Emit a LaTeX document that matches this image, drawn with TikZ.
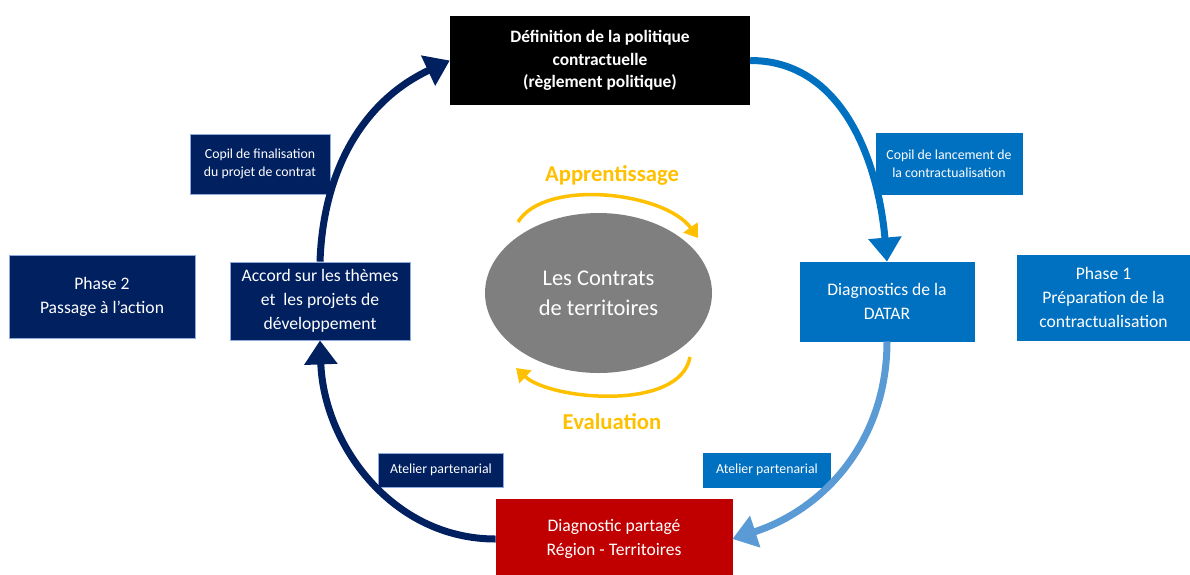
\documentclass[tikz,border=0pt]{standalone}
\usepackage{fontspec}
\setmainfont{Carlito}
\usepackage{tikz}
\usetikzlibrary{shapes,arrows.meta,positioning}
\definecolor{navy}{HTML}{002060}
\definecolor{azur}{HTML}{0070C0}
\definecolor{ciel}{HTML}{5B9BD5}
\definecolor{rouge}{HTML}{C00000}
\definecolor{gris}{HTML}{7F7F7F}
\definecolor{or}{HTML}{FFC000}
\definecolor{bord}{HTML}{8FAADC}
\tikzstyle{etape} = [rectangle, draw=bord, line width=0.8pt, text=white, align=center, inner sep=2pt, font=\fontsize{17.6}{24}\selectfont]
\tikzstyle{petite} = [rectangle, draw=bord, line width=0.8pt, text=white, align=center, inner sep=2pt, font=\fontsize{13.8}{18}\selectfont]
\tikzstyle{cycle} = [line width=7pt, -{Triangle[length=24pt,width=32pt]}]
\tikzstyle{boucle} = [or, line width=3.5pt, -{Triangle[length=13pt,width=17pt]}]
\tikzstyle{motcle} = [text=or, font=\fontsize{22.7}{26}\selectfont\bfseries]

\begin{document}
\begin{tikzpicture}[x=1pt,y=-1pt]
\useasboundingbox (0,0) rectangle (1190,574);
\node [rectangle, fill=black, text=white, align=center, minimum width=300pt, minimum height=89pt, font=\fontsize{17.4}{22.5}\selectfont\bfseries] (politique) at (600,60.5) {Définition de la politique\\contractuelle\\(règlement politique)};
\node [etape, fill=azur, draw=azur, minimum width=174pt, minimum height=79pt] (datar) at (887,301.5) {Diagnostics de la\\DATAR};
\node [etape, fill=azur, draw=azur, minimum width=173pt, minimum height=85pt] (phaseun) at (1103.5,297.5) {Phase 1\\Préparation de la\\contractualisation};
\node [etape, fill=rouge, draw=rouge, minimum width=236pt, minimum height=80pt] (partage) at (614,539) {Diagnostic partagé\\Région - Territoires};
\node [etape, fill=navy, minimum width=180pt, minimum height=78pt] (accord) at (320,301) {Accord sur les thèmes\\et~ les projets de\\développement};
\node [etape, fill=navy, minimum width=186pt, minimum height=83pt] (phasedeux) at (102,296.5) {Phase 2\\Passage à l’action};
\node [petite, fill=navy, minimum width=140pt, minimum height=60pt] (copilfin) at (260,164) {Copil de finalisation\\du projet de contrat};
\node [petite, fill=azur, draw=azur, minimum width=146pt, minimum height=61pt] (copillanc) at (949,164) {Copil de lancement de\\la contractualisation};
\node [petite, fill=navy, minimum width=125pt, minimum height=34pt] (ateliergauche) at (441,470) {Atelier partenarial};
\node [petite, fill=azur, draw=azur, minimum width=127pt, minimum height=34pt] (atelierdroite) at (767,470) {Atelier partenarial};
\node [ellipse, fill=gris, text=white, align=center, minimum width=227pt, minimum height=160pt, font=\fontsize{22.5}{30}\selectfont] (contrats) at (598.5,293) {Les Contrats\\de territoires};
\node [motcle] (apprentissage) at (612,175) {Apprentissage};
\node [motcle] (evaluation) at (612,422) {Evaluation};
\draw [cycle, azur] (politique.east) to[out=0,in=95] (datar.north);
\draw [cycle, ciel] (datar.south) to[out=-90,in=18] (partage.east);
\draw [cycle, navy] (partage.west) to[out=180,in=-88] (accord.south);
\draw [cycle, navy] (accord.north) to[out=88,in=205] (politique.west);
\coordinate (hautdebut) at (518,222);
\coordinate (hautfin) at (698,238);
\coordinate (basdebut) at (690,357);
\coordinate (basfin) at (516,368);
\draw [boucle] (hautdebut) .. controls (545,178) and (665,192) .. (hautfin);
\draw [boucle] (basdebut) .. controls (680,412) and (550,400) .. (basfin);
\end{tikzpicture}
\end{document}
